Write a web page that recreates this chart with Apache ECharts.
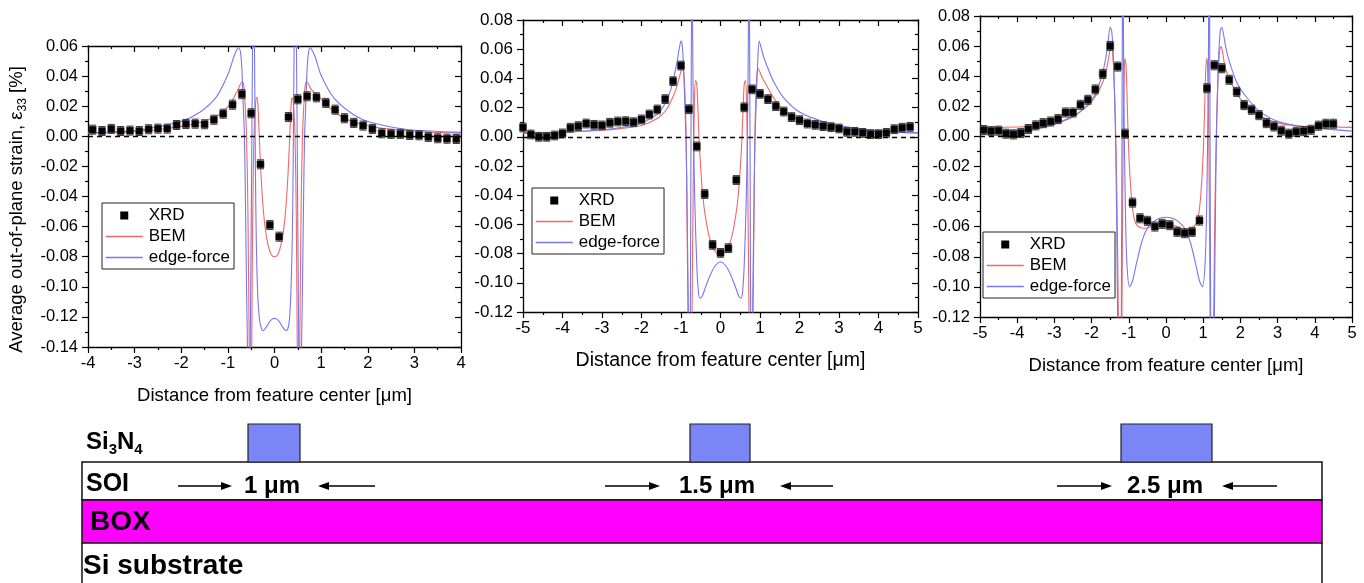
<!DOCTYPE html>
<html>
<head>
<meta charset="utf-8">
<script src="https://cdn.jsdelivr.net/npm/echarts@6/dist/echarts.min.js"></script>
<style>
  html, body { margin: 0; padding: 0; background: #fff; }
  #chart { width: 1364px; height: 583px; }
</style>
</head>
<body>
<div id="chart"></div>
<script>
// ---------- measured strain data (ε33, %) ----------
// 1 µm feature
const xrd1X = [-3.9,-3.7,-3.5,-3.3,-3.1,-2.9,-2.7,-2.5,-2.3,-2.1,-1.9,-1.7,-1.5,-1.3,-1.1,-0.9,-0.7,-0.5,-0.3,-0.1,
               0.1,0.3,0.5,0.7,0.9,1.1,1.3,1.5,1.7,1.9,2.1,2.3,2.5,2.7,2.9,3.1,3.3,3.5,3.7,3.9];
const xrd1Y = [0.0044,0.0035,0.0049,0.0035,0.0038,0.0035,0.0047,0.0051,0.0051,0.0075,0.0082,0.0084,0.0080,0.0110,0.0150,0.0210,0.0280,0.0153,-0.0186,-0.0589,
               -0.0667,0.0128,0.0246,0.0266,0.0259,0.0222,0.0177,0.0120,0.0089,0.0071,0.0049,0.0020,0.0016,0.0016,0.0009,0.0007,-0.0004,-0.0013,-0.0016,-0.0018];
// 1.5 µm feature
const xrd2X = [-5.0,-4.8,-4.6,-4.4,-4.2,-4.0,-3.8,-3.6,-3.4,-3.2,-3.0,-2.8,-2.6,-2.4,-2.2,-2.0,-1.8,-1.6,-1.4,-1.2,-1.0,-0.8,-0.6,-0.4,-0.2,
               0.0,0.2,0.4,0.6,0.8,1.0,1.2,1.4,1.6,1.8,2.0,2.2,2.4,2.6,2.8,3.0,3.2,3.4,3.6,3.8,4.0,4.2,4.4,4.6,4.8];
const xrd2Y = [0.0064,0.0016,0.0000,0.0000,0.0009,0.0023,0.0062,0.0073,0.0091,0.0082,0.0078,0.0096,0.0105,0.0107,0.0100,0.0119,0.0153,0.0187,0.0258,0.0381,0.0488,0.0189,-0.0066,-0.0392,-0.0740,
               -0.0795,-0.0763,-0.0296,0.0202,0.0325,0.0294,0.0258,0.0210,0.0173,0.0135,0.0114,0.0091,0.0082,0.0073,0.0066,0.0057,0.0034,0.0034,0.0027,0.0018,0.0018,0.0027,0.0052,0.0062,0.0068];
// 2.5 µm feature
const xrd3X = [-4.9,-4.7,-4.5,-4.3,-4.1,-3.9,-3.7,-3.5,-3.3,-3.1,-2.9,-2.7,-2.5,-2.3,-2.1,-1.9,-1.7,-1.5,-1.3,-1.1,-0.9,-0.7,-0.5,-0.3,-0.1,
               0.1,0.3,0.5,0.7,0.9,1.1,1.3,1.5,1.7,1.9,2.1,2.3,2.5,2.7,2.9,3.1,3.3,3.5,3.7,3.9,4.1,4.3,4.5];
const xrd3Y = [0.0042,0.0035,0.0038,0.0018,0.0013,0.0022,0.0049,0.0073,0.0088,0.0099,0.0115,0.0159,0.0159,0.0210,0.0243,0.0312,0.0415,0.0601,0.0464,0.0018,-0.0440,-0.0544,-0.0561,-0.0599,-0.0581,
               -0.0590,-0.0634,-0.0643,-0.0634,-0.0559,0.0320,0.0473,0.0453,0.0376,0.0296,0.0208,0.0177,0.0141,0.0088,0.0066,0.0038,0.0018,0.0031,0.0035,0.0044,0.0071,0.0084,0.0084];
// XRD uncertainty (half height of the error bars)
const xrdErr = 0.003;

// ---------- model curves [x (µm), ε33 (%)] ----------
const bem1 = [[-4.0,0.0020],[-3.5,0.0025],[-3.0,0.0033],[-2.5,0.0045],[-2.0,0.0066],[-1.6,0.0092],[-1.3,0.0125],[-1.1,0.0165],[-0.95,0.0215],[-0.85,0.0270],[-0.77,0.0320],[-0.72,0.0352],[-0.69,0.0362],[-0.66,0.0340],[-0.63,0.0210],[-0.60,0.0000],[-0.57,-0.0500],[-0.54,-0.1450],[-0.51,-0.2000],[-0.49,-0.1500],[-0.47,-0.0600],[-0.44,0.0000],[-0.41,0.0200],[-0.38,0.0259],[-0.36,0.0230],[-0.34,0.0100],[-0.32,-0.0050],[-0.29,-0.0250],[-0.25,-0.0450],[-0.20,-0.0610],[-0.14,-0.0720],[-0.07,-0.0785],[0.00,-0.0800],[0.07,-0.0785],[0.14,-0.0720],[0.20,-0.0610],[0.25,-0.0450],[0.29,-0.0250],[0.32,-0.0050],[0.34,0.0100],[0.36,0.0230],[0.38,0.0255],[0.41,0.0200],[0.44,0.0000],[0.47,-0.0600],[0.49,-0.1500],[0.51,-0.2000],[0.54,-0.1450],[0.57,-0.0500],[0.60,0.0000],[0.63,0.0210],[0.66,0.0340],[0.69,0.0362],[0.72,0.0352],[0.77,0.0320],[0.85,0.0290],[1.0,0.0250],[1.2,0.0185],[1.5,0.0120],[2.0,0.0070],[2.5,0.0047],[3.0,0.0034],[3.5,0.0026],[4.0,0.0021]];
const edge1 = [[-4.0,0.0024],[-3.7,0.0027],[-3.0,0.0036],[-2.7,0.0051],[-2.0,0.0100],[-1.6,0.0160],[-1.25,0.0260],[-1.0,0.0410],[-0.87,0.0530],[-0.81,0.0575],[-0.77,0.0588],[-0.73,0.0560],[-0.70,0.0450],[-0.67,0.0200],[-0.645,0.0000],[-0.62,-0.0500],[-0.60,-0.1000],[-0.58,-0.1400],[-0.56,-0.2000],[-0.54,-0.2200],[-0.52,-0.1400],[-0.495,-0.0400],[-0.47,0.0600],[-0.455,0.1000],[-0.44,0.1000],[-0.43,0.0600],[-0.41,-0.0200],[-0.39,-0.0700],[-0.36,-0.1050],[-0.32,-0.1220],[-0.27,-0.1285],[-0.24,-0.1290],[-0.18,-0.1270],[-0.10,-0.1230],[-0.05,-0.1215],[0.00,-0.1210],[0.05,-0.1215],[0.10,-0.1230],[0.18,-0.1270],[0.24,-0.1290],[0.28,-0.1285],[0.32,-0.1220],[0.35,-0.1050],[0.38,-0.0700],[0.40,-0.0200],[0.42,0.0600],[0.435,0.1000],[0.45,0.1000],[0.47,0.0600],[0.495,-0.0400],[0.52,-0.1400],[0.54,-0.2200],[0.56,-0.2000],[0.58,-0.1400],[0.60,-0.1000],[0.62,-0.0500],[0.645,0.0000],[0.67,0.0200],[0.70,0.0450],[0.73,0.0560],[0.76,0.0588],[0.80,0.0575],[0.87,0.0530],[1.0,0.0405],[1.26,0.0260],[1.62,0.0160],[2.0,0.0098],[2.7,0.0051],[3.0,0.0040],[3.77,0.0029],[4.0,0.0026]];
const bem2 = [[-5.0,0.0027],[-4.0,0.0033],[-3.0,0.0045],[-2.5,0.0058],[-2.0,0.0078],[-1.6,0.0125],[-1.4,0.0175],[-1.25,0.0245],[-1.11,0.0340],[-1.03,0.0420],[-0.97,0.0470],[-0.93,0.0440],[-0.90,0.0300],[-0.87,0.0000],[-0.85,-0.0500],[-0.82,-0.1300],[-0.79,-0.2000],[-0.75,-0.2000],[-0.72,-0.1200],[-0.69,-0.0300],[-0.66,0.0250],[-0.63,0.0385],[-0.60,0.0360],[-0.57,0.0180],[-0.54,-0.0030],[-0.50,-0.0220],[-0.45,-0.0400],[-0.38,-0.0550],[-0.28,-0.0690],[-0.15,-0.0780],[0.00,-0.0810],[0.15,-0.0780],[0.28,-0.0690],[0.38,-0.0550],[0.45,-0.0400],[0.50,-0.0220],[0.54,-0.0030],[0.57,0.0180],[0.60,0.0360],[0.63,0.0385],[0.66,0.0250],[0.69,-0.0300],[0.72,-0.1200],[0.75,-0.2000],[0.79,-0.2000],[0.82,-0.1300],[0.85,-0.0500],[0.87,0.0000],[0.90,0.0300],[0.94,0.0470],[0.98,0.0455],[1.05,0.0410],[1.17,0.0350],[1.34,0.0270],[1.59,0.0185],[2.0,0.0120],[2.6,0.0080],[3.44,0.0047],[4.5,0.0031],[5.0,0.0027]];
const edge2 = [[-5.0,0.0023],[-4.0,0.0030],[-3.0,0.0048],[-2.5,0.0065],[-2.0,0.0095],[-1.6,0.0155],[-1.4,0.0230],[-1.25,0.0330],[-1.11,0.0500],[-1.04,0.0610],[-1.0,0.0655],[-0.97,0.0630],[-0.94,0.0500],[-0.90,0.0200],[-0.87,-0.0050],[-0.84,-0.0600],[-0.81,-0.1300],[-0.78,-0.2000],[-0.76,-0.1000],[-0.74,0.0500],[-0.72,0.1200],[-0.70,0.0500],[-0.68,0.0000],[-0.65,-0.0450],[-0.60,-0.0880],[-0.56,-0.1060],[-0.52,-0.1106],[-0.46,-0.1090],[-0.38,-0.1030],[-0.28,-0.0960],[-0.15,-0.0890],[0.00,-0.0858],[0.15,-0.0890],[0.28,-0.0960],[0.38,-0.1030],[0.46,-0.1090],[0.52,-0.1106],[0.56,-0.1060],[0.60,-0.0880],[0.65,-0.0450],[0.68,0.0000],[0.70,0.0500],[0.72,0.1200],[0.74,0.0500],[0.76,-0.1000],[0.78,-0.2000],[0.81,-0.1300],[0.84,-0.0600],[0.87,-0.0050],[0.90,0.0200],[0.94,0.0500],[0.98,0.0655],[1.02,0.0620],[1.1,0.0540],[1.2,0.0470],[1.34,0.0380],[1.59,0.0270],[2.0,0.0170],[2.6,0.0105],[3.44,0.0058],[4.5,0.0032],[5.0,0.0027]];
const bem3 = [[-5.0,0.0060],[-4.0,0.0062],[-3.5,0.0068],[-3.0,0.0085],[-2.5,0.0135],[-2.1,0.0205],[-1.9,0.0265],[-1.7,0.0360],[-1.6,0.0445],[-1.52,0.0555],[-1.48,0.0597],[-1.44,0.0570],[-1.40,0.0400],[-1.36,0.0100],[-1.32,-0.0400],[-1.28,-0.1200],[-1.25,-0.2000],[-1.21,-0.2000],[-1.18,-0.1000],[-1.15,0.0000],[-1.12,0.0450],[-1.10,0.0517],[-1.07,0.0450],[-1.04,0.0200],[-1.01,-0.0050],[-0.96,-0.0300],[-0.90,-0.0480],[-0.82,-0.0575],[-0.70,-0.0605],[-0.55,-0.0610],[-0.40,-0.0600],[-0.20,-0.0585],[0.00,-0.0580],[0.20,-0.0590],[0.40,-0.0610],[0.55,-0.0620],[0.70,-0.0610],[0.82,-0.0575],[0.90,-0.0480],[0.96,-0.0300],[1.01,-0.0050],[1.04,0.0200],[1.07,0.0450],[1.10,0.0517],[1.12,0.0450],[1.15,0.0000],[1.18,-0.1000],[1.21,-0.2000],[1.25,-0.2000],[1.28,-0.1200],[1.32,-0.0400],[1.36,0.0100],[1.40,0.0400],[1.44,0.0570],[1.48,0.0597],[1.52,0.0560],[1.6,0.0450],[1.8,0.0330],[2.0,0.0250],[2.5,0.0140],[3.0,0.0090],[3.5,0.0070],[4.0,0.0065],[5.0,0.0060]];
const edge3 = [[-5.0,0.0040],[-4.0,0.0042],[-3.5,0.0050],[-3.0,0.0080],[-2.5,0.0130],[-2.1,0.0210],[-1.9,0.0280],[-1.75,0.0380],[-1.65,0.0480],[-1.57,0.0600],[-1.50,0.0725],[-1.46,0.0700],[-1.42,0.0550],[-1.38,0.0250],[-1.35,-0.0100],[-1.32,-0.0700],[-1.29,-0.1500],[-1.26,-0.2500],[-1.22,-0.2000],[-1.19,-0.0500],[-1.17,0.1000],[-1.155,0.1200],[-1.14,0.0500],[-1.12,0.0000],[-1.09,-0.0500],[-1.05,-0.0850],[-0.98,-0.1000],[-0.90,-0.0960],[-0.80,-0.0850],[-0.65,-0.0700],[-0.50,-0.0610],[-0.30,-0.0560],[-0.15,-0.0542],[0.00,-0.0537],[0.15,-0.0542],[0.30,-0.0560],[0.50,-0.0610],[0.65,-0.0700],[0.80,-0.0850],[0.90,-0.0960],[0.98,-0.1000],[1.05,-0.0850],[1.09,-0.0500],[1.12,0.0000],[1.14,0.0500],[1.155,0.1200],[1.17,0.1000],[1.19,-0.0500],[1.22,-0.2000],[1.26,-0.2500],[1.29,-0.1500],[1.32,-0.0700],[1.35,-0.0100],[1.38,0.0250],[1.42,0.0550],[1.46,0.0700],[1.50,0.0725],[1.60,0.0600],[1.70,0.0500],[1.90,0.0360],[2.10,0.0280],[2.50,0.0170],[3.00,0.0100],[3.50,0.0072],[4.00,0.0055],[5.00,0.0035]];

// ---------- axis ranges and texts ----------
const xRanges = [[-4, 4], [-5, 5], [-5, 5]];
const yRanges = [[-0.14, 0.06], [-0.12, 0.08], [-0.12, 0.08]];
const xTitle = 'Distance from feature center [\u03bcm]';
const featureLabels = ['1 \u03bcm', '1.5 \u03bcm', '2.5 \u03bcm'];

const FONT = "'Liberation Sans', Arial, Helvetica, sans-serif";
const RED = '#f0686a';
const BLUE = '#7777ee';

const panels = [
  { x: xrd1X, y: xrd1Y, bem: bem1, edge: edge1 },
  { x: xrd2X, y: xrd2Y, bem: bem2, edge: edge2 },
  { x: xrd3X, y: xrd3Y, bem: bem3, edge: edge3 }
];

const grids = [
  { left: 88, top: 46, width: 373, height: 301 },
  { left: 523, top: 20, width: 395, height: 292 },
  { left: 980, top: 16, width: 372, height: 301 }
];
const tickFont = [16.5, 17, 16.5];
const titleFont = [18.5, 19.5, 18.5];
const legendPos = [[102, 203], [532, 188], [983, 232]];

const axisLineStyle = { color: '#000', width: 1.3 };

function xAxes(i) {
  const base = {
    type: 'value', gridIndex: i, min: xRanges[i][0], max: xRanges[i][1], interval: 1,
    axisLine: { show: true, onZero: false, lineStyle: axisLineStyle },
    axisTick: { show: true, length: 6, lineStyle: { color: '#000', width: 1.2 } },
    minorTick: { show: true, splitNumber: 2, length: 3, lineStyle: { color: '#000', width: 1.2 } },
    splitLine: { show: false }, minorSplitLine: { show: false }
  };
  return [
    Object.assign({}, base, {
      position: 'bottom',
      axisLabel: { fontSize: tickFont[i], color: '#000', fontFamily: FONT, margin: 8 },
      name: xTitle, nameLocation: 'middle', nameGap: 39,
      nameTextStyle: { fontSize: titleFont[i], color: '#000', fontFamily: FONT }
    }),
    Object.assign({}, base, {
      position: 'top',
      axisLabel: { show: false },
      axisTick: Object.assign({}, base.axisTick, { inside: true })
    })
  ];
}

function yAxes(i) {
  const base = {
    type: 'value', gridIndex: i, min: yRanges[i][0], max: yRanges[i][1], interval: 0.02,
    axisLine: { show: true, onZero: false, lineStyle: axisLineStyle },
    axisTick: { show: true, length: 6, lineStyle: { color: '#000', width: 1.2 } },
    minorTick: { show: true, splitNumber: 2, length: 3, lineStyle: { color: '#000', width: 1.2 } },
    splitLine: { show: false }, minorSplitLine: { show: false }
  };
  const left = Object.assign({}, base, {
    position: 'left',
    axisLabel: { fontSize: tickFont[i], color: '#000', fontFamily: FONT, margin: 10,
                 formatter: v => v.toFixed(2) }
  });
  if (i === 0) {
    Object.assign(left, {
      name: '{t|Average out-of-plane strain, \u03b5}{s|33}{t| [%]}',
      nameLocation: 'middle', nameGap: 59,
      nameTextStyle: {
        color: '#000', fontFamily: FONT, fontSize: 18.5, padding: [0, 26, 0, 0],
        rich: {
          t: { fontSize: 18.5, fontFamily: FONT, color: '#000', lineHeight: 24 },
          s: { fontSize: 12, fontFamily: FONT, color: '#000', lineHeight: 24, verticalAlign: 'bottom' }
        }
      }
    });
  }
  return [
    left,
    Object.assign({}, base, {
      position: 'right',
      axisLabel: { show: false },
      axisTick: Object.assign({}, base.axisTick, { inside: true })
    })
  ];
}

// vertical error bar with caps around each XRD point
function errorBar(params, api) {
  const x = api.value(0), y = api.value(1), e = api.value(2);
  const hi = api.coord([x, y + e]);
  const lo = api.coord([x, y - e]);
  const w = 3.5;
  const st = { stroke: '#3a3a3a', lineWidth: 1 };
  return {
    type: 'group',
    children: [
      { type: 'line', shape: { x1: hi[0], y1: hi[1], x2: lo[0], y2: lo[1] }, style: st },
      { type: 'line', shape: { x1: hi[0] - w, y1: hi[1], x2: hi[0] + w, y2: hi[1] }, style: st },
      { type: 'line', shape: { x1: lo[0] - w, y1: lo[1], x2: lo[0] + w, y2: lo[1] }, style: st }
    ]
  };
}

// legend glyph for the measured points: a small square centred in the icon box
const squareIcon = 'path://M0,0M37,13M14.5,2.5h8v8h-8z';

const xAxis = [], yAxis = [], series = [], legend = [];
panels.forEach((p, i) => {
  xAxis.push(...xAxes(i));
  yAxis.push(...yAxes(i));
  const ax = { xAxisIndex: 2 * i, yAxisIndex: 2 * i };
  series.push(Object.assign({
    name: 'BEM', type: 'line', data: p.bem, symbol: 'none', showSymbol: false,
    smooth: 0.3, clip: true, lineStyle: { color: RED, width: 1.1 }, itemStyle: { color: RED }, z: 2
  }, ax));
  series.push(Object.assign({
    name: 'edge-force', type: 'line', data: p.edge, symbol: 'none', showSymbol: false,
    smooth: 0.3, clip: true, lineStyle: { color: BLUE, width: 1.1 }, itemStyle: { color: BLUE }, z: 2
  }, ax));
  series.push(Object.assign({
    name: 'XRD error', type: 'custom', renderItem: errorBar, z: 3,
    data: p.x.map((x, k) => [x, p.y[k], xrdErr])
  }, ax));
  series.push(Object.assign({
    name: 'XRD', type: 'scatter', symbol: 'rect', symbolSize: 7, z: 4,
    itemStyle: { color: '#000', borderColor: '#333', borderWidth: 0.6, opacity: 1 },
    data: p.x.map((x, k) => [x, p.y[k]]),
    markLine: {
      silent: true, symbol: 'none', label: { show: false },
      lineStyle: { color: '#000', type: [5, 4], width: 1.3 },
      data: [{ yAxis: 0 }]
    }
  }, ax));
  legend.push({
    left: legendPos[i][0], top: legendPos[i][1], orient: 'vertical',
    selectedMode: false, itemWidth: 37, itemHeight: 13, itemGap: 4,
    padding: [4, 4, 3, 3], borderColor: '#222', borderWidth: 1, backgroundColor: '#fff',
    textStyle: { fontSize: 17, color: '#000', fontFamily: FONT, padding: [0, 0, 0, 1] },
    data: [
      { name: 'XRD', icon: squareIcon, itemStyle: { color: '#000', borderWidth: 0 } },
      // the model entries show only their line; the marker in the middle is hidden
      { name: 'BEM', itemStyle: { opacity: 0 }, lineStyle: { color: RED, width: 1.5 } },
      { name: 'edge-force', itemStyle: { opacity: 0 }, lineStyle: { color: BLUE, width: 1.5 } }
    ]
  });
});

// ---------- cross-section sketch below the plots ----------
function arrow(x1, x2, y) {
  const dir = x2 > x1 ? 1 : -1;
  const hl = 11, hw = 4;
  return [
    { type: 'line', silent: true, shape: { x1: x1, y1: y, x2: x2 - dir * hl * 0.6, y2: y },
      style: { stroke: '#000', lineWidth: 1.4 } },
    { type: 'polygon', silent: true,
      shape: { points: [[x2, y], [x2 - dir * hl, y - hw], [x2 - dir * hl, y + hw]] },
      style: { fill: '#000' } }
  ];
}
const sketchY = { nit: 424, soi: 462, box: 500, sub: 543 };
const nitrides = [[248, 300], [690, 750], [1121, 1212]];
const arrowPairs = [[[178, 232], [375, 318]], [[605, 660], [833, 780]], [[1057, 1112], [1277, 1222]]];
const labelCenters = [272, 717, 1165];

const graphic = [
  { type: 'rect', silent: true, shape: { x: 82, y: sketchY.soi, width: 1240, height: sketchY.box - sketchY.soi },
    style: { fill: '#fff', stroke: '#111', lineWidth: 1.5 } },
  { type: 'rect', silent: true, shape: { x: 82, y: sketchY.box, width: 1240, height: sketchY.sub - sketchY.box },
    style: { fill: '#ff00ff', stroke: '#111', lineWidth: 1.5 } },
  { type: 'line', silent: true, shape: { x1: 82, y1: sketchY.sub, x2: 82, y2: 583 }, style: { stroke: '#111', lineWidth: 1.5 } },
  { type: 'line', silent: true, shape: { x1: 1322, y1: sketchY.sub, x2: 1322, y2: 583 }, style: { stroke: '#111', lineWidth: 1.5 } }
];
nitrides.forEach(n => graphic.push({
  type: 'rect', silent: true, shape: { x: n[0], y: sketchY.nit, width: n[1] - n[0], height: sketchY.soi - sketchY.nit },
  style: { fill: '#7a86f6', stroke: '#222', lineWidth: 1.2 }
}));
arrowPairs.forEach(pr => pr.forEach(a => graphic.push(...arrow(a[0], a[1], 486))));
featureLabels.forEach((t, k) => graphic.push({
  type: 'text', silent: true, x: labelCenters[k], y: 486,
  style: { text: t, font: 'bold 24px ' + FONT, fill: '#000', align: 'center', verticalAlign: 'middle' }
}));
graphic.push({
  type: 'text', silent: true, x: 86, y: 442,
  style: {
    text: '{b|Si}{s|3}{b|N}{s|4}', fill: '#000', verticalAlign: 'middle',
    rich: {
      b: { font: 'bold 24px ' + FONT, fill: '#000', lineHeight: 30 },
      s: { font: 'bold 15px ' + FONT, fill: '#000', lineHeight: 30, verticalAlign: 'bottom' }
    }
  }
});
graphic.push({ type: 'text', silent: true, x: 86, y: 484,
  style: { text: 'SOI', font: 'bold 25px ' + FONT, fill: '#000', verticalAlign: 'middle' } });
graphic.push({ type: 'text', silent: true, x: 90, y: 522,
  style: { text: 'BOX', font: 'bold 28px ' + FONT, fill: '#000', verticalAlign: 'middle' } });
graphic.push({ type: 'text', silent: true, x: 83, y: 566,
  style: { text: 'Si substrate', font: 'bold 28px ' + FONT, fill: '#000', verticalAlign: 'middle' } });

const chart = echarts.init(document.getElementById('chart'), null, { renderer: 'canvas' });
chart.setOption({
  animation: false,
  backgroundColor: '#fff',
  textStyle: { fontFamily: FONT },
  grid: grids,
  xAxis: xAxis,
  yAxis: yAxis,
  legend: legend,
  series: series,
  graphic: graphic
});
</script>
</body>
</html>
